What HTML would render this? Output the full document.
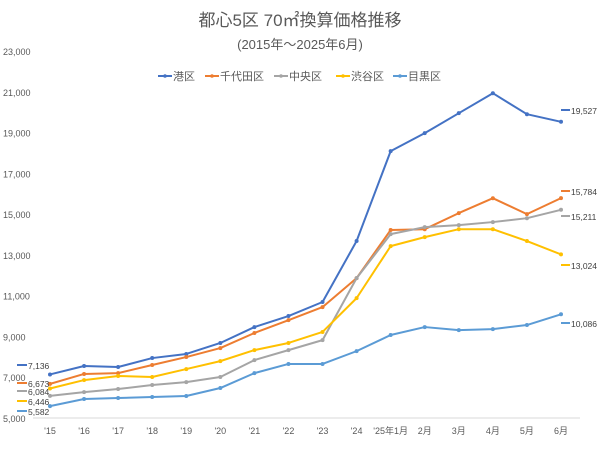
<!DOCTYPE html>
<html><head><meta charset="utf-8">
<style>
body{margin:0;background:#fff;width:600px;height:462px;overflow:hidden;font-family:"Liberation Sans","Noto Sans CJK JP",sans-serif;}
text{font-family:"Liberation Sans","Noto Sans CJK JP",sans-serif;}
</style></head><body>
<svg id="chart" width="600" height="462" viewBox="0 0 600 462">
<text x="300" y="26" text-anchor="middle" font-size="17" fill="#595959">都心5区 70㎡換算価格推移</text>
<text x="300" y="49" text-anchor="middle" font-size="13" fill="#595959">(2015年～2025年6月)</text>
<g id="legend"></g>
<line x1="33" y1="418" x2="580" y2="418" stroke="#d9d9d9" stroke-width="1"/>
<g id="yaxis"></g>
<g id="xaxis"></g>
<g id="series"></g>
</svg>
<script>
const categories=["'15","'16","'17","'18","'19","'20","'21","'22","'23","'24","'25年1月","2月","3月","4月","5月","6月"];
const seriesNames=["港区","千代田区","中央区","渋谷区","目黒区"];
const seriesColors=["#4472c4","#ed7d31","#a5a5a5","#ffc000","#5b9bd5"];
const minato=[7136,7550,7500,7940,8140,8680,9460,10000,10690,13680,18090,18970,19950,20930,19900,19527];
const chiyoda=[6673,7160,7200,7600,7990,8430,9170,9800,10440,11860,14220,14260,15050,15780,15000,15784];
const chuo=[6084,6270,6420,6620,6760,7010,7840,8330,8820,11860,14020,14360,14460,14610,14800,15211];
const shibuya=[6446,6860,7060,7010,7400,7790,8330,8680,9220,10880,13430,13870,14260,14260,13680,13024];
const meguro=[5582,5930,5980,6030,6080,6470,7200,7650,7650,8280,9070,9460,9310,9360,9560,10086];
const yTicks=[5000,7000,9000,11000,13000,15000,17000,19000,21000,23000];
const allSeries=[minato,chiyoda,chuo,shibuya,meguro];
const seriesKeys=["minato","chiyoda","chuo","shibuya","meguro"];

const NS="http://www.w3.org/2000/svg";
const yScale=v=>418-(v-5000)*(367/18000);
const xScale=i=>50+i*(511/15);
function mk(tag,attrs,parent){const e=document.createElementNS(NS,tag);for(const k in attrs)e.setAttribute(k,attrs[k]);parent.appendChild(e);return e;}
const fmt=v=>v.toLocaleString("en-US");

const ya=document.getElementById("yaxis");
yTicks.forEach(t=>{
  const e=mk("text",{x:3,y:yScale(t)+4,"font-size":9,fill:"#595959"},ya);
  e.textContent=fmt(t);
  
  
});
const xa=document.getElementById("xaxis");
categories.forEach((c,i)=>{
  const e=mk("text",{x:xScale(i),y:434,"font-size":9,fill:"#595959","text-anchor":"middle"},xa);
  e.textContent=c;
  
  
});

// label layout (text baselines) to avoid overlap
const leftLabelY=[369,387,395,405,415];
const rightLabelY=[114,195,220,269,327];

const sg=document.getElementById("series");
allSeries.forEach((vals,s)=>{
  const col=seriesColors[s];
  const g=mk("g",{},sg);
  
  
  const pts=vals.map((v,i)=>xScale(i)+","+yScale(v)).join(" ");
  const pl=mk("polyline",{points:pts,fill:"none",stroke:col,"stroke-width":2,"stroke-linejoin":"round"},g);
  
  
  vals.forEach((v,i)=>{
    const c=mk("circle",{cx:xScale(i),cy:yScale(v),r:2,fill:col},g);
    
    
  });
  const ly=leftLabelY[s];
  const lm=mk("line",{x1:17,y1:ly-4,x2:27,y2:ly-4,stroke:col,"stroke-width":2},g);
  
  
  const lt=mk("text",{x:28,y:ly,"font-size":8.5,fill:"#404040"},g);
  lt.textContent=fmt(vals[0]);
  
  
  const ry=rightLabelY[s];
  const rm=mk("line",{x1:561,y1:ry-4,x2:570,y2:ry-4,stroke:col,"stroke-width":2},g);
  
  
  const rt=mk("text",{x:571,y:ry,"font-size":8.5,fill:"#404040"},g);
  rt.textContent=fmt(vals[vals.length-1]);
  
  
});

const lg=document.getElementById("legend");
const lx=[158,205,274,336,393];
seriesNames.forEach((n,s)=>{
  const g=mk("g",{},lg);
  
  
  mk("line",{x1:lx[s],y1:76,x2:lx[s]+14,y2:76,stroke:seriesColors[s],"stroke-width":2},g);
  mk("circle",{cx:lx[s]+7,cy:76,r:1.8,fill:seriesColors[s]},g);
  const t=mk("text",{x:lx[s]+15,y:80,"font-size":11,fill:"#595959"},g);
  t.textContent=n;
});
</script>
</body></html>
